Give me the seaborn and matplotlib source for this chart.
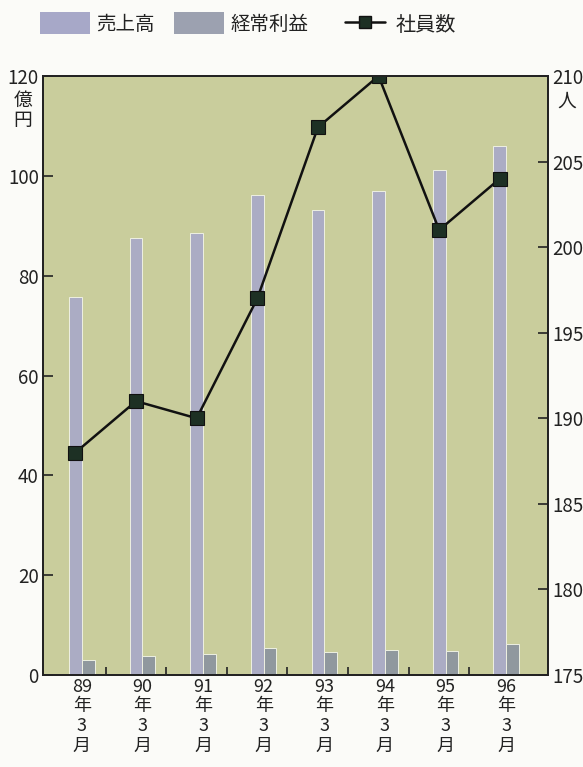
import numpy as np
import pandas as pd
import matplotlib
matplotlib.use("Agg")
import matplotlib.pyplot as plt
from matplotlib.patches import Patch
from matplotlib.lines import Line2D
import seaborn as sns

# Fiscal years (March year-end)
years = ["89", "90", "91", "92", "93", "94", "95", "96"]
sales = [75.7, 87.5, 88.5, 96.1, 93.2, 97.0, 101.1, 105.9]      # 売上高 (億円)
profit = [3.0, 3.8, 4.2, 5.5, 4.7, 5.1, 4.8, 6.2]               # 経常利益 (億円)
staff = [188, 191, 190, 197, 207, 210, 201, 204]                # 社員数 (人)

series_names = ["売上高", "経常利益"]
line_name = "社員数"
tick_labels = [f"{y}\n年\n3\n月" for y in years]

C_BG = "#c9cd9c"
C_SALES = "#a7a8c8"
C_PROFIT = "#8e98a0"
C_PROFIT_LEG = "#9ca1b0"
C_MARK = "#1d3024"
C_INK = "#222222"

sns.set_theme(style="white")
plt.rcParams["font.family"] = ["Noto Sans CJK JP", "DejaVu Sans"]

df = pd.DataFrame({
    "year": years * 2,
    "value": sales + profit,
    "series": [series_names[0]] * len(years) + [series_names[1]] * len(years),
})

fig = plt.figure(figsize=(5.83, 7.67), dpi=100)
fig.patch.set_facecolor("#fbfbf8")
ax = fig.add_axes([43 / 583, 1 - 675 / 767, (548 - 43) / 583, (675 - 76) / 767])
ax.set_facecolor(C_BG)

sns.barplot(data=df, x="year", y="value", hue="series", order=years,
            hue_order=series_names, palette=[C_SALES, C_PROFIT],
            width=0.42, errorbar=None, legend=False, ax=ax,
            edgecolor="#eef0e2", linewidth=0.7)

ax.set_xlim(-0.64, 7.69)
ax.set_ylim(0, 120)
ax.set_yticks([0, 20, 40, 60, 80, 100, 120])
ax.set_yticklabels(["0", "20", "40", "60", "80", "100", "120"])
ax.set_xticks(range(len(years)))
ax.set_xticklabels(tick_labels, linespacing=1.12)
ax.set_xticks(np.arange(len(years) - 1) + 0.393, minor=True)
ax.set_xlabel("")
ax.set_ylabel("")
ax.tick_params(axis="x", which="major", length=0, pad=2, labelsize=13, colors=C_INK)
ax.tick_params(axis="x", which="minor", direction="in", length=6, width=1.2, color=C_INK, bottom=True)
ax.tick_params(axis="y", direction="in", length=7, width=1.2, color=C_INK, pad=3,
               labelsize=13.5, labelcolor=C_INK, left=True)
for s in ax.spines.values():
    s.set_color(C_INK)
    s.set_linewidth(1.3)

ax2 = ax.twinx()
xline = np.arange(len(years)) - 0.105
sns.lineplot(x=xline, y=staff, ax=ax2, color="#111111", linewidth=1.8,
             marker="s", markersize=10, markerfacecolor=C_MARK,
             markeredgecolor="#111111", markeredgewidth=0.8, sort=False)
ax2.set_ylim(175, 210)
ax2.set_yticks([175, 180, 185, 190, 195, 200, 205, 210])
ax2.set_ylabel("")
ax2.tick_params(axis="y", direction="in", length=7, width=1.2, color=C_INK, pad=3,
                labelsize=13.5, labelcolor=C_INK, right=True)
for s in ax2.spines.values():
    s.set_color(C_INK)
    s.set_linewidth(1.3)

# Unit labels
fig.text(23 / 583, 1 - 90 / 767, "億\n円", ha="center", va="top", fontsize=13.5,
         linespacing=0.95, color=C_INK)
fig.text(567 / 583, 1 - 101 / 767, "人", ha="center", va="center", fontsize=13.5,
         color=C_INK)

# Legend: bar series on the left, employee line further right
bar_handles = [
    Patch(facecolor=C_SALES, edgecolor="none"),
    Patch(facecolor=C_PROFIT_LEG, edgecolor="none"),
]
fig.legend(bar_handles, series_names, loc="upper left",
           bbox_to_anchor=(22 / 583, 1 + 5 / 767), ncol=2, frameon=False,
           fontsize=14, handlelength=2.6, handleheight=1.3, handletextpad=0.3,
           columnspacing=1.0, labelcolor=C_INK)
line_handle = Line2D([], [], color="#111111", linewidth=1.8, marker="s", markersize=9,
                     markerfacecolor=C_MARK, markeredgecolor="#111111")
fig.legend([line_handle], [line_name], loc="upper left",
           bbox_to_anchor=(327 / 583, 1 + 5 / 767), frameon=False,
           fontsize=14.5, handlelength=2.0, handleheight=1.3, handletextpad=0.5,
           labelcolor=C_INK)

fig.savefig("out.png", dpi=100, facecolor=fig.get_facecolor())
